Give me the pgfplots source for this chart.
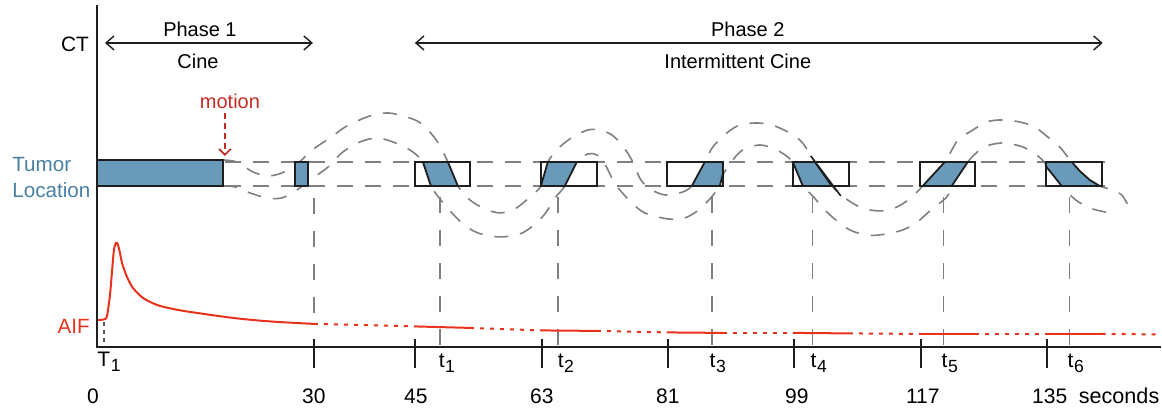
\documentclass[border=0pt]{standalone}
\usepackage{fontspec}
\setmainfont{Liberation Sans}
\usepackage{pgfplots}
\pgfplotsset{compat=1.18}
\usetikzlibrary{arrows.meta}
\definecolor{barblue}{RGB}{106,154,186}
\definecolor{txtblue}{RGB}{72,128,163}
\definecolor{aifred}{RGB}{232,50,28}
\definecolor{motred}{RGB}{196,42,36}
\definecolor{dgray}{RGB}{128,128,128}
\definecolor{axblack}{RGB}{30,30,30}
\newcommand{\sub}[2]{#1\kern0.3pt\raisebox{-2.6pt}{\fontsize{8.8}{9}\selectfont #2}}
\tikzset{lab/.style={font=\fontsize{10.5}{12}\selectfont}}
\begin{document}
\begin{tikzpicture}
\begin{axis}[width=581pt,height=203.5pt,scale only axis,
  xmin=0,xmax=1162,ymin=0,ymax=407,y dir=reverse,
  axis line style={draw=none},ticks=none,clip=false,enlargelimits=false,
  curve/.style={draw=dgray,line width=0.8pt,dash pattern=on 7pt off 6pt,smooth,no markers},
  hline/.style={draw=dgray,line width=0.8pt,dash pattern=on 8pt off 6pt,no markers},
  vline/.style={draw=dgray,line width=0.7pt,dash pattern=on 8pt off 8.5pt,no markers},
  boxw/.style={fill=white,draw=none,no markers},
  boxo/.style={draw=axblack,line width=1pt,no markers},
  tum/.style={fill=barblue,draw=axblack,line width=0.9pt,no markers},
  aif/.style={draw=aifred,line width=1pt,no markers},
  aifd/.style={draw=aifred,line width=1pt,dash pattern=on 2pt off 3pt,no markers},
  tk/.style={draw=axblack,line width=1.2pt,no markers},
  every node/.append style={font=\fontsize{10.7}{12}\selectfont}]

% guard
\addplot[draw=none] coordinates {(0,0) (1162,407)};

% horizontal dashed band
\addplot[hline] coordinates {(225,162) (1105,162)};
\addplot[hline] coordinates {(225,186) (1105,186)};

% motion curves (upper and lower edge)
\addplot[curve] coordinates {(223,160) (237,162) (253,172) (268,176) (282,173) (296,165) (306,156) (315,148) (330,138) (347,126) (370,116) (388,113) (407,117) (422,124) (437,141) (448,162) (458,186) (470,200) (485,209) (500,213) (515,209) (529,198) (541,186) (548,162) (560,147) (573,137) (588,130) (600,130) (612,135) (623,146) (633,162) (641,180) (652,190) (665,195) (680,193) (692,186) (705,162) (713,147) (727,133) (740,125) (757,123) (772,125) (788,132) (802,142) (815,162) (832,186) (845,198) (862,208) (880,211) (895,208) (910,199) (923,186) (945,162) (958,140) (970,132) (987,122) (1002,120) (1020,122) (1035,127) (1048,137) (1060,147) (1072,162) (1086,176) (1100,186) (1113,190) (1122,195) (1130,208)};
\addplot[curve] coordinates {(223,186) (235,187) (250,193) (267,198) (282,198) (297,190) (310,180) (327,168) (343,152) (360,142) (377,138) (393,142) (410,150) (423,162) (431,186) (445,205) (462,223) (478,233) (500,237) (520,234) (533,226) (545,214) (556,197) (565,186) (577,162) (588,154) (597,155) (605,164) (613,180) (620,190) (632,203) (645,213) (668,219) (685,218) (699,210) (710,199) (720,186) (723,175) (733,160) (743,150) (760,145) (777,150) (793,162) (803,186) (812,195) (825,210) (836,220) (850,230) (866,235) (880,235) (900,231) (915,224) (929,212) (947,197) (952,186) (968,162) (980,150) (990,145) (1005,143) (1023,147) (1037,155) (1047,165) (1062,186) (1076,200) (1090,208) (1105,212) (1113,213)};

% vertical dashed guides
\addplot[vline] coordinates {(314,198) (314,318)};
\addplot[vline] coordinates {(440,197) (440,346)};
\addplot[vline] coordinates {(558,197) (558,346)};
\addplot[vline] coordinates {(712,197) (712,346)};
\addplot[vline] coordinates {(813,197) (813,346)};
\addplot[vline] coordinates {(944,197) (944,346)};
\addplot[vline] coordinates {(1070,197) (1070,346)};

% tumour bars (phase 1)
\addplot[tum] coordinates {(97,160) (223,160) (223,186) (97,186)} --cycle;
\addplot[tum] coordinates {(295,162) (308,162) (308,186) (295,186)} --cycle;

% phase 2 slabs
\addplot[boxw] coordinates {(415,162) (470,162) (470,186) (415,186)} --cycle;
\addplot[tum] coordinates {(423,162) (448,162) (458,186) (431,186)} --cycle;
\addplot[boxo] coordinates {(415,162) (470,162) (470,186) (415,186)} --cycle;

\addplot[boxw] coordinates {(541,162) (597,162) (597,186) (541,186)} --cycle;
\addplot[tum] coordinates {(548,162) (577,162) (565,186) (541,186)} --cycle;
\addplot[boxo] coordinates {(541,162) (597,162) (597,186) (541,186)} --cycle;

\addplot[boxw] coordinates {(667,162) (723,162) (723,186) (667,186)} --cycle;
\addplot[tum] coordinates {(692,186) (705,162) (723,162) (723,174) (720,186)} --cycle;
\addplot[boxo] coordinates {(667,162) (723,162) (723,186) (667,186)} --cycle;

\addplot[boxw] coordinates {(793,162) (849,162) (849,186) (793,186)} --cycle;
\addplot[tum] coordinates {(793,162) (815,162) (832,186) (803,186)} --cycle;
\addplot[boxo] coordinates {(793,162) (849,162) (849,186) (793,186)} --cycle;
\addplot[draw=axblack,line width=0.8pt] coordinates {(811,156) (841,196)};

\addplot[boxw] coordinates {(920,162) (975,162) (975,186) (920,186)} --cycle;
\addplot[tum] coordinates {(945,162) (968,162) (952,186) (923,186)} --cycle;
\addplot[boxo] coordinates {(920,162) (975,162) (975,186) (920,186)} --cycle;

\addplot[boxw] coordinates {(1046,162) (1102,162) (1102,186) (1046,186)} --cycle;
\addplot[tum] coordinates {(1046,162) (1072,162) (1080,171) (1090,180) (1100,186) (1062,186) (1046,166)} --cycle;
\addplot[boxo] coordinates {(1046,162) (1102,162) (1102,186) (1046,186)} --cycle;

% AIF
\addplot[aif,smooth,tension=0.5] coordinates {(97,320) (104,319.5) (107,316) (110,295) (112,272) (114,250) (116,243) (118,245) (120,253) (122,263) (127,277) (133,288) (143,298) (157,305) (173,309) (190,312) (233,318) (270,321.5) (314,324)};
\addplot[aifd] coordinates {(314,324) (415,326.5)};
\addplot[aif]  coordinates {(415,326.5) (470,328)};
\addplot[aifd] coordinates {(470,328) (541,330.5)};
\addplot[aif]  coordinates {(541,330.5) (597,331)};
\addplot[aifd] coordinates {(597,331) (667,332.5)};
\addplot[aif]  coordinates {(667,332.5) (723,333)};
\addplot[aifd] coordinates {(723,333) (793,333)};
\addplot[aif]  coordinates {(793,333) (849,333.5)};
\addplot[aifd] coordinates {(849,333.5) (920,334)};
\addplot[aif]  coordinates {(920,334) (975,334)};
\addplot[aifd] coordinates {(975,334) (1046,334)};
\addplot[aif]  coordinates {(1046,334) (1102,334)};
\addplot[aifd] coordinates {(1102,334) (1161,334.5)};

% T1 guide
\addplot[draw=black!65,line width=0.6pt,dash pattern=on 2pt off 2pt] coordinates {(104,322) (104,346)};

% axes
\addplot[draw=axblack,line width=1.3pt] coordinates {(97,5) (97,347) (1161,347)};
\addplot[tk] coordinates {(314,339) (314,368)};
\addplot[tk] coordinates {(415,339) (415,368)};
\addplot[tk] coordinates {(542,339) (542,368)};
\addplot[tk] coordinates {(668,339) (668,368)};
\addplot[tk] coordinates {(794,339) (794,368)};
\addplot[tk] coordinates {(921,339) (921,368)};
\addplot[tk] coordinates {(1047,339) (1047,368)};

% tick labels
\node[lab] at (axis cs:93,396) {0};
\node[lab] at (axis cs:314,396) {30};
\node[lab] at (axis cs:416,396) {45};
\node[lab] at (axis cs:542,396) {63};
\node[lab] at (axis cs:668,396) {81};
\node[lab] at (axis cs:797,396) {99};
\node[lab] at (axis cs:923,396) {117};
\node[lab] at (axis cs:1050,396) {135};
\node[anchor=east,inner sep=0pt,font=\fontsize{10.8}{12}\selectfont] at (axis cs:1160,396) {seconds};

\node[lab] at (axis cs:109,362) {\sub{T}{1}};
\node[lab] at (axis cs:447,363) {\sub{t}{1}};
\node[lab] at (axis cs:566,363) {\sub{t}{2}};
\node[lab] at (axis cs:718,363) {\sub{t}{3}};
\node[lab] at (axis cs:819,363) {\sub{t}{4}};
\node[lab] at (axis cs:950,363) {\sub{t}{5}};
\node[lab] at (axis cs:1076,363) {\sub{t}{6}};

% top annotations
\node[font=\fontsize{10.4}{12}\selectfont] at (axis cs:75,44) {CT};
\draw[draw=axblack,line width=0.7pt,{Straight Barb[length=4pt,width=7pt]}-{Straight Barb[length=4pt,width=7pt]}] (axis cs:105,43) -- (axis cs:313,43);
\draw[draw=axblack,line width=0.7pt,{Straight Barb[length=4pt,width=7pt]}-{Straight Barb[length=4pt,width=7pt]}] (axis cs:415,43) -- (axis cs:1103,43);
\node at (axis cs:200,29) {Phase 1};
\node at (axis cs:198,61) {Cine};
\node at (axis cs:748,29) {Phase 2};
\node at (axis cs:738,61) {Intermittent Cine};

\node[text=motred] at (axis cs:230,101) {motion};
\draw[draw=motred,line width=0.8pt,dash pattern=on 3pt off 2pt,-{Straight Barb[length=3pt,width=6pt]}] (axis cs:225,113) -- (axis cs:225,156);

\node[anchor=west,align=left,inner sep=0pt,text=txtblue,font=\fontsize{10.3}{13}\selectfont] at (axis cs:12,178) {Tumor\\Location};
\node[anchor=east,inner sep=0pt,text=aifred,font=\fontsize{10.3}{12}\selectfont] at (axis cs:90,327) {AIF};
\end{axis}
\end{tikzpicture}
\end{document}
